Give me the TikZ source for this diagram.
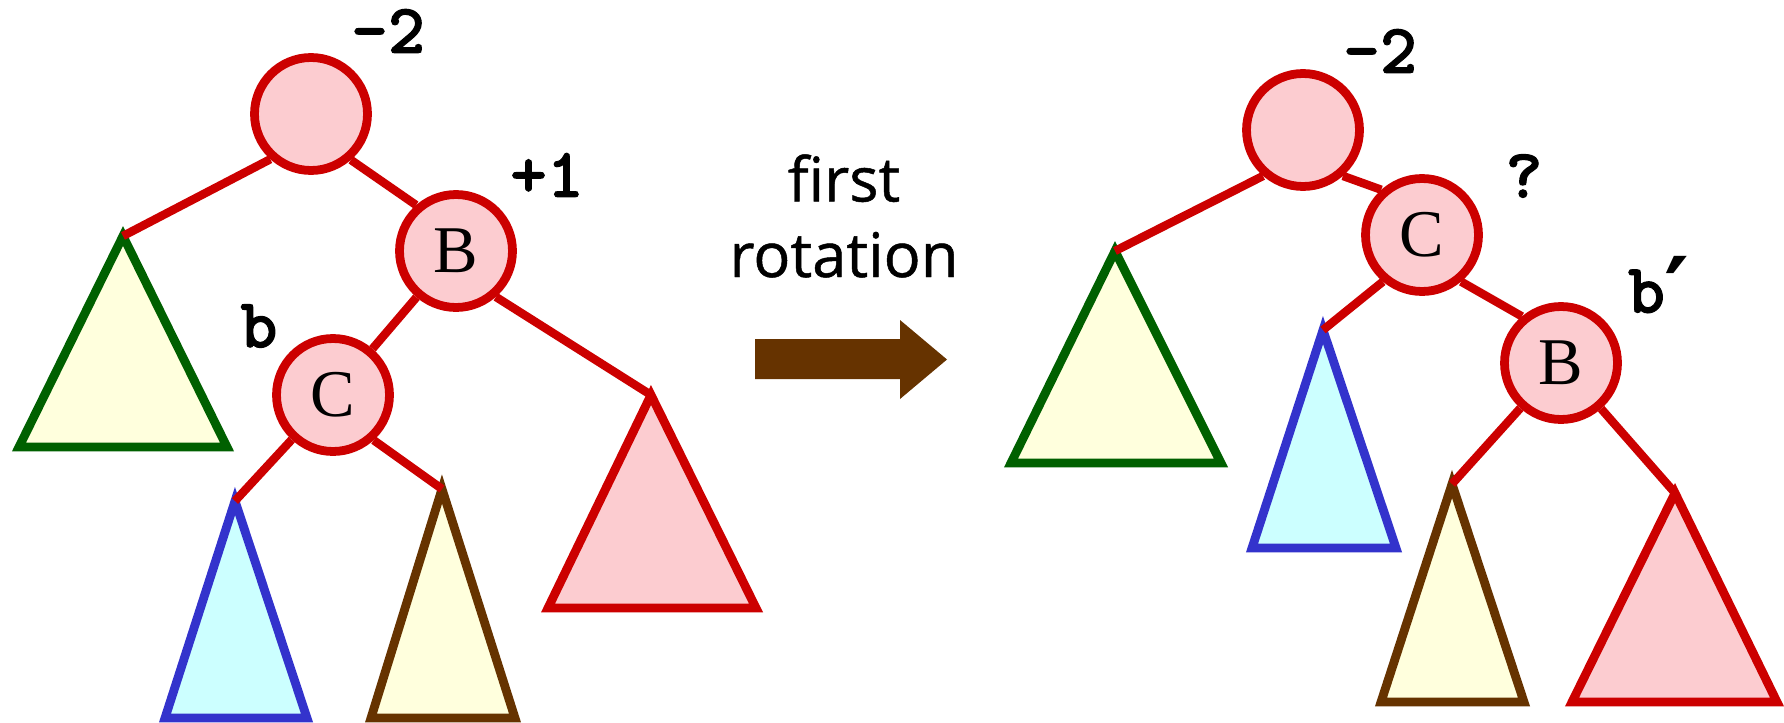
\documentclass[tikz,border=0pt]{standalone}
\usepackage{fontspec}
\setmainfont{Liberation Serif}
\newfontfamily\balfont{lmmonolt10-bold.otf}[FakeBold=1.4]
\newfontfamily\primefont{DejaVu Sans}
\newfontfamily\handfont{Open Sans}[FakeBold=0.8]
\usetikzlibrary{positioning}

\definecolor{avlred}{RGB}{204,0,0}
\definecolor{avlpink}{RGB}{252,204,208}
\definecolor{avlgreen}{RGB}{0,96,0}
\definecolor{avlcream}{RGB}{255,255,221}
\definecolor{avlblue}{RGB}{51,51,204}
\definecolor{avlcyan}{RGB}{204,255,255}
\definecolor{avlbrown}{RGB}{102,51,0}

\tikzset{
  avlnode/.style={circle, draw=avlred, fill=avlpink, line width=5pt,
                  minimum size=2.26cm, inner sep=0pt,
                  font=\fontsize{38}{40}\selectfont},
  link/.style={draw=avlred, line width=4.8pt},
  subtree/.style={line width=5pt, line join=miter},
  balance/.style={font=\balfont\fontsize{40}{40}\selectfont,
                  inner sep=0pt}
}

\begin{document}
\begin{tikzpicture}[x=0.02cm, y=-0.02cm]
  \useasboundingbox (0,0) rectangle (1784,723);

  % before the rotation
  \coordinate (lgreen) at (123,236);
  \coordinate (lblue) at (235,501);
  \coordinate (lbrown) at (442,489);
  \coordinate (lpink) at (651,395);
  \draw[subtree, draw=avlgreen, fill=avlcream]
    (lgreen) -- (19,447) -- (227,447) -- cycle;
  \draw[subtree, draw=avlblue, fill=avlcyan]
    (lblue) -- (165,718) -- (307,718) -- cycle;
  \draw[subtree, draw=avlbrown, fill=avlcream]
    (lbrown) -- (371,718) -- (515,718) -- cycle;
  \draw[subtree, draw=avlred, fill=avlpink]
    (lpink) -- (548,608) -- (756,608) -- cycle;

  \node[avlnode] (lroot) at (311,114) {};
  \node[avlnode] (lB) at (456,251) {B};
  \node[avlnode] (lC) at (333,395) {C};

  \draw[link] (lroot.228) -- (lgreen);
  \draw[link] (lroot.311) -- (lB.131);
  \draw[link] (lB) -- (lC);
  \draw[link] (lB.311) -- (lpink);
  \draw[link] (lC) -- (lblue);
  \draw[link] (lC.312) -- (lbrown);

  \node[balance] (lrootbal) at (388,31) {-2};
  \node[balance] (lBbal) at (547,175) {+1};
  \node[balance] (lClab) at (259,326) {b};

  % the rotation
  \fill[avlbrown] (755,339) -- (900,339) -- (900,320) -- (947,359.5)
    -- (900,399) -- (900,379) -- (755,379) -- cycle;
  \node[font=\handfont\fontsize{35}{43}\selectfont, align=center,
        inner sep=0pt] (rotlab) at (844,216) {first\\rotation};

  % after the rotation
  \coordinate (rgreen) at (1115,251);
  \coordinate (rblue) at (1323,330);
  \coordinate (rbrown) at (1452,484);
  \coordinate (rpink) at (1675,493);
  \draw[subtree, draw=avlgreen, fill=avlcream]
    (rgreen) -- (1011,463) -- (1221,463) -- cycle;
  \draw[subtree, draw=avlblue, fill=avlcyan]
    (rblue) -- (1252,548) -- (1396,548) -- cycle;
  \draw[subtree, draw=avlbrown, fill=avlcream]
    (rbrown) -- (1381,702) -- (1524,702) -- cycle;
  \draw[subtree, draw=avlred, fill=avlpink]
    (rpink) -- (1572,702) -- (1777,702) -- cycle;

  \node[avlnode] (rroot) at (1303,130) {};
  \node[avlnode] (rC) at (1422,235) {C};
  \node[avlnode] (rB) at (1561,363) {B};

  \draw[link] (rroot.229) -- (rgreen);
  \draw[link] (rroot.311) -- (rC.132);
  \draw[link] (rC.230) -- (rblue);
  \draw[link] (rC.310) -- (rB.130);
  \draw[link] (rB) -- (rbrown);
  \draw[link] (rB) -- (rpink);

  \node[balance] (rrootbal) at (1380,51) {-2};
  \node[balance] (rCbal) at (1524,176) {?};
  \node[balance] (rBlab) at (1659,291)
    {b{\primefont\bfseries\fontsize{54}{54}\selectfont\raisebox{-0.25ex}{′}}};
\end{tikzpicture}
\end{document}
